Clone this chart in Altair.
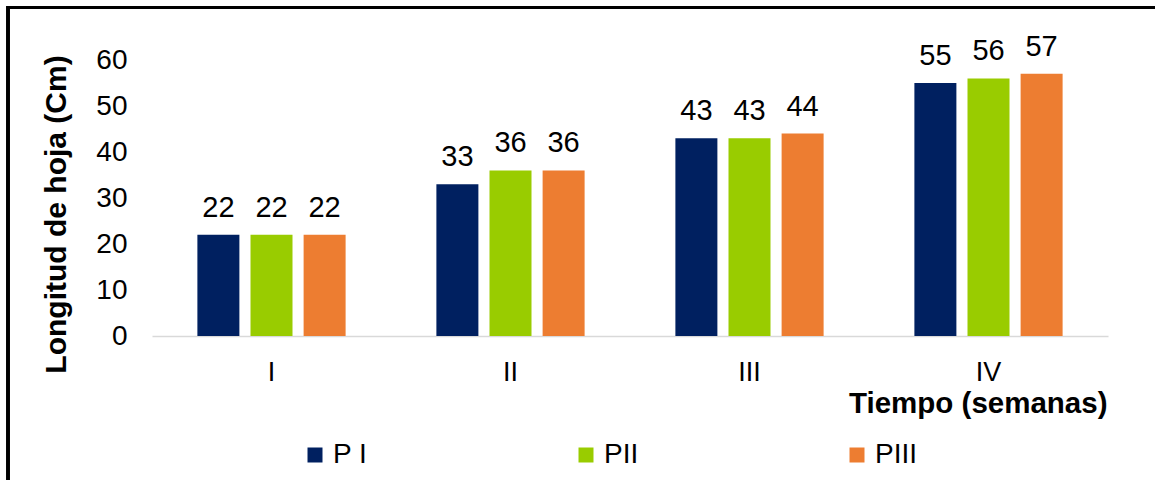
import altair as alt
import pandas as pd

# Leaf length per week and treatment
weeks = ["I", "II", "III", "IV"]
series = ["P I", "PII", "PIII"]
p1_values = [22, 33, 43, 55]
p2_values = [22, 36, 43, 56]
p3_values = [22, 36, 44, 57]
colors = ["#002060", "#99CC00", "#ED7D31"]

rows = []
for name, vals in zip(series, [p1_values, p2_values, p3_values]):
    for w, v in zip(weeks, vals):
        rows.append({"Semana": w, "Serie": name, "Valor": v})
df = pd.DataFrame(rows)

FONT = "Liberation Sans"
W, H = 956, 276

x_enc = alt.X(
    "Semana:N",
    sort=weeks,
    scale=alt.Scale(domain=weeks, paddingInner=0.38, paddingOuter=0.19),
    axis=alt.Axis(
        title="Tiempo (semanas)",
        labelAngle=0,
        labelFontSize=27,
        labelFont=FONT,
        labelColor="#000000",
        labelBaseline="alphabetic",
        labelPadding=44,
        ticks=False,
        tickSize=0,
        domainColor="#d9d9d9",
        domainWidth=1.5,
        titleFont=FONT,
        titleFontSize=29.5,
        titleFontWeight="bold",
        titleColor="#000000",
        titleAlign="right",
        titleBaseline="alphabetic",
        titleX=W - 1,
        titleY=76,
    ),
)
xoff = alt.XOffset(
    "Serie:N", sort=series, scale=alt.Scale(domain=series, paddingInner=0.21, paddingOuter=0)
)
y_enc = alt.Y(
    "Valor:Q",
    scale=alt.Scale(domain=[0, 60]),
    axis=alt.Axis(
        title="Longitud de hoja (Cm)",
        values=[0, 10, 20, 30, 40, 50, 60],
        labelFontSize=28,
        labelFont=FONT,
        labelColor="#000000",
        labelPadding=25,
        ticks=False,
        tickSize=0,
        domain=False,
        grid=False,
        titleFont=FONT,
        titleFontSize=30,
        titleFontWeight="bold",
        titleColor="#000000",
        titleAngle=270,
        titleAlign="center",
        titleBaseline="middle",
        titleX=-96,
        titleY=154,
    ),
)

# One bar layer per series, each with its own legend entry placed along the bottom
legend_x = [149, 420, 691]
bar_layers = []
for name, col, lx in zip(series, colors, legend_x):
    layer = (
        alt.Chart(df)
        .transform_filter(alt.datum.Serie == name)
        .mark_bar(size=42)
        .encode(
            x=x_enc,
            xOffset=xoff,
            y=y_enc,
            color=alt.Color(
                "Serie:N",
                scale=alt.Scale(domain=[name], range=[col]),
                legend=alt.Legend(
                    title=None,
                    orient="none",
                    legendX=lx,
                    legendY=381,
                    symbolType="square",
                    symbolSize=225,
                    symbolStrokeWidth=0,
                    labelFont=FONT,
                    labelFontSize=28,
                    labelColor="#000000",
                    labelOffset=4,
                ),
            ),
        )
    )
    bar_layers.append(layer)

labels = alt.Chart(df).mark_text(
    baseline="alphabetic", dy=-18, fontSize=29, font=FONT, color="#000000"
).encode(x=alt.X("Semana:N", sort=weeks), xOffset=alt.XOffset("Serie:N", sort=series), y="Valor:Q", text="Valor:Q")

# Frame lines around the figure
frame_top = alt.Chart(df).mark_rule(color="#000000", strokeWidth=2.5).encode(
    x=alt.value(-145), x2=alt.value(1155 - 152), y=alt.value(-52.5)
)
frame_left = alt.Chart(df).mark_rule(color="#000000", strokeWidth=2.5).encode(
    x=alt.value(-144), y=alt.value(-54), y2=alt.value(480 - 60)
)

chart = (
    alt.layer(*bar_layers, labels, frame_top, frame_left)
    .resolve_scale(color="independent")
    .properties(
        width=W,
        height=H,
        autosize=alt.AutoSizeParams(type="none"),
        padding={"left": 152, "top": 60, "right": 1155 - 152 - W, "bottom": 480 - 60 - H},
        background="#ffffff",
    )
    .configure_view(stroke=None)
)

chart.save("out.html", embed_options={"renderer": "svg", "actions": False})
